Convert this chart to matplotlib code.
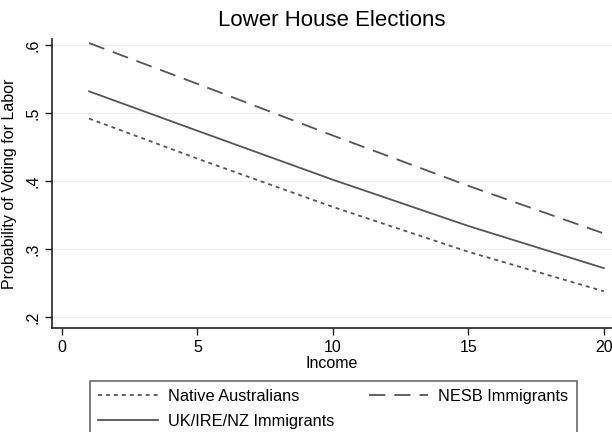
import matplotlib
matplotlib.use('Agg')
import matplotlib.pyplot as plt

plt.rcParams['font.family'] = ['Liberation Sans', 'DejaVu Sans']

# values
income = [1, 5, 10, 15, 20]
native = [0.492, 0.433, 0.362, 0.296, 0.238]
uk_ire_nz = [0.532, 0.474, 0.402, 0.334, 0.272]
nesb = [0.603, 0.543, 0.467, 0.393, 0.323]

x_ticks = [0, 5, 10, 15, 20]
y_ticks = [0.2, 0.3, 0.4, 0.5, 0.6]
y_tick_labels = ['.2', '.3', '.4', '.5', '.6']

fig = plt.figure(figsize=(6.12, 4.32), dpi=100)
ax = fig.add_axes([52 / 612, 1 - 328 / 432, 560 / 612, 289 / 432])

line_col = '#555555'
l1, = ax.plot(income, native, color=line_col, lw=1.3, dashes=(2.2, 2.2), label='Native Australians')
l2, = ax.plot(income, uk_ire_nz, color=line_col, lw=1.3, label='UK/IRE/NZ Immigrants')
l3, = ax.plot(income, nesb, color=line_col, lw=1.3, dashes=(9, 5), label='NESB Immigrants')

ax.set_xlim(-0.37, 20.3)
ax.set_ylim(0.184, 0.609)
ax.set_xticks(x_ticks)
ax.set_yticks(y_ticks)
ax.set_yticklabels(y_tick_labels, rotation=90, va='center')
ax.tick_params(labelsize=11.5, length=5, width=1, color='#222222')
ax.grid(axis='y', color='#eeeeee', lw=0.8)
ax.set_axisbelow(True)

for s in ['top', 'right']:
    ax.spines[s].set_visible(False)
for s in ['left', 'bottom']:
    ax.spines[s].set_color('#222222')
    ax.spines[s].set_linewidth(1.2)

ax.set_xlabel('Income', fontsize=11.5, labelpad=1)
ax.set_ylabel('Probability of Voting for Labor', fontsize=11.5, labelpad=6)
ax.set_title('Lower House Elections', fontsize=16, pad=9)

leg = fig.legend(handles=[l1, l2, l3], loc='upper left', ncol=2,
                 bbox_to_anchor=(90 / 612, 1 - 381 / 432), borderaxespad=0,
                 fontsize=11.8, frameon=True, fancybox=False, edgecolor='#444444',
                 handlelength=3.65, handletextpad=0.6, columnspacing=2.1,
                 borderpad=0.5, labelspacing=0.6)
leg.get_frame().set_linewidth(1.2)

fig.savefig('out.png', dpi=100)
